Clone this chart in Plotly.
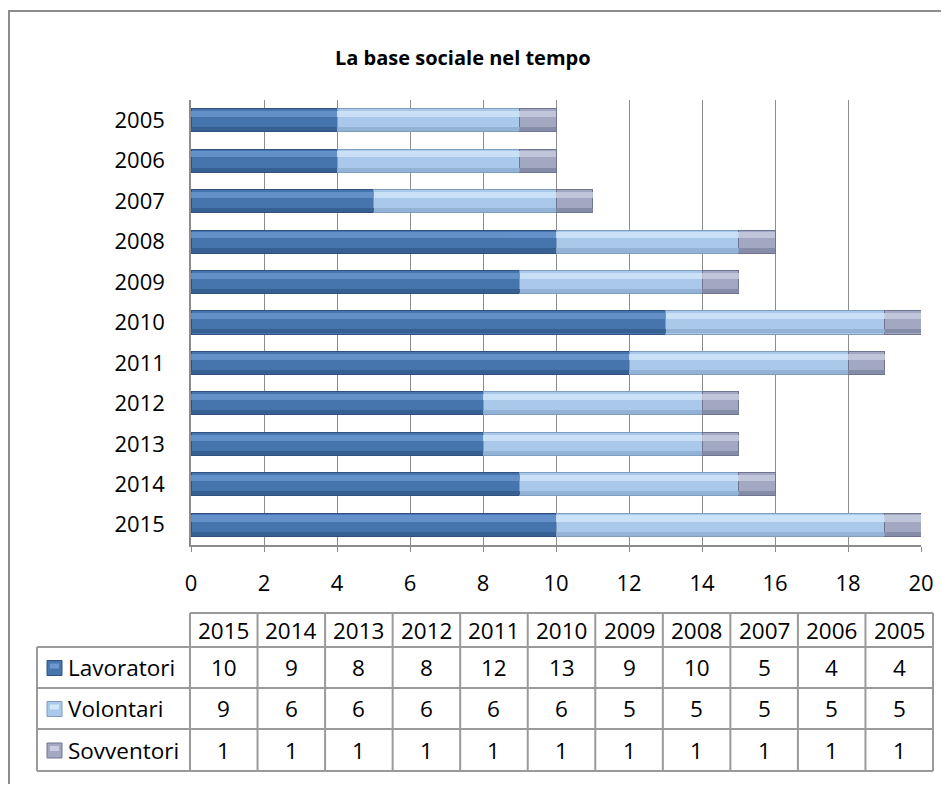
import plotly.graph_objects as go

years = ["2015", "2014", "2013", "2012", "2011", "2010", "2009", "2008", "2007", "2006", "2005"]
series_names = ["Lavoratori", "Volontari", "Sovventori"]
lavoratori = [10, 9, 8, 8, 12, 13, 9, 10, 5, 4, 4]
volontari = [9, 6, 6, 6, 6, 6, 5, 5, 5, 5, 5]
sovventori = [1, 1, 1, 1, 1, 1, 1, 1, 1, 1, 1]
x_ticks = [0, 2, 4, 6, 8, 10, 12, 14, 16, 18, 20]
title_text = "La base sociale nel tempo"

series_values = [lavoratori, volontari, sovventori]
main_colors = ["#4674ad", "#a9c8ea", "#a2a8c2"]
light_colors = ["#6c98cf", "#d2e7fa", "#c8cde0"]
dark_colors = ["#345c8c", "#8eaed2", "#7f86a2"]
edge_colors = ["#2f5280", "#7f9dbf", "#6f7590"]

# figure fills the page width (minus the 8px body margin); layout done in fractions
OFF = 8
W_REF = 949 - 2 * OFF
H = 793 - 2 * OFF - 1
FONT = "Open Sans"


def px(x):
    return (x - OFF) / W_REF


def py(y):
    return 1 - (y - OFF) / H


fig = go.Figure()

for name, vals, c, ec in zip(series_names, series_values, main_colors, edge_colors):
    fig.add_trace(go.Bar(
        y=years, x=vals, name=name, orientation="h",
        marker=dict(color=c, line=dict(color=ec, width=1)),
        width=0.57, xaxis="x", yaxis="y", hoverinfo="skip", showlegend=False,
    ))

# lighter upper band (bevel imitation)
for name, vals, c in zip(series_names, series_values, light_colors):
    fig.add_trace(go.Bar(
        y=years, x=vals, name=name + " hl", orientation="h",
        marker=dict(color=c, line=dict(width=0)), opacity=0.8,
        width=0.15, offset=0.08, xaxis="x", yaxis="y2", hoverinfo="skip", showlegend=False,
    ))

# darker lower band
for name, vals, c in zip(series_names, series_values, dark_colors):
    fig.add_trace(go.Bar(
        y=years, x=vals, name=name + " sh", orientation="h",
        marker=dict(color=c, line=dict(width=0)), opacity=0.8,
        width=0.1, offset=-0.27, xaxis="x", yaxis="y3", hoverinfo="skip", showlegend=False,
    ))

x_dom = [px(191), px(921)]
y_dom = [py(545), py(100)]

fig.update_layout(
    autosize=True, height=H,
    margin=dict(l=0, r=0, t=0, b=0, autoexpand=False),
    paper_bgcolor="white", plot_bgcolor="white",
    barmode="stack",
    font=dict(family=FONT, color="#000000"),
    xaxis=dict(domain=x_dom, range=[0, 20], tickvals=x_ticks, ticktext=[str(v) for v in x_ticks],
               showgrid=True, gridcolor="#8c8c8c", gridwidth=1,
               showline=True, linecolor="#8c8c8c", linewidth=1.5,
               ticks="outside", ticklen=5, tickcolor="#8c8c8c",
               ticklabelstandoff=13, tickfont=dict(size=22, family=FONT), zeroline=False,
               fixedrange=True),
    yaxis=dict(domain=y_dom, type="category", categoryorder="array", categoryarray=years,
               showline=True, linecolor="#8c8c8c", linewidth=1.5, showgrid=False,
               ticks="", ticklabelstandoff=20, tickfont=dict(size=22, family=FONT)),
    yaxis2=dict(domain=y_dom, type="category", categoryorder="array", categoryarray=years,
                overlaying="y", matches="y", showticklabels=False, showline=False, showgrid=False),
    yaxis3=dict(domain=y_dom, type="category", categoryorder="array", categoryarray=years,
                overlaying="y", matches="y", showticklabels=False, showline=False, showgrid=False),
    showlegend=False,
)

shapes = []
annotations = []

shapes.append(dict(type="rect", xref="paper", yref="paper", x0=px(9), x1=px(W_REF + 60),
                   y0=py(11), y1=py(H + 40), line=dict(color="#8c8c8c", width=2), layer="below"))

annotations.append(dict(text="<b>" + title_text + "</b>", x=px(463), y=py(57), xref="paper", yref="paper",
                        showarrow=False, font=dict(size=20, family=FONT, color="#000"),
                        xanchor="center", yanchor="middle"))

tab_left, lab_right, tab_right = 37, 190, 933
row_edges = [613, 647, 688, 729, 771]
ncols = len(years)
col_w = (tab_right - lab_right) / ncols
line_style = dict(color="#9a9a9a", width=2)
TFS = 22.5

shapes.append(dict(type="line", xref="paper", yref="paper", x0=px(lab_right), x1=px(tab_right),
                   y0=py(row_edges[0]), y1=py(row_edges[0]), line=line_style))
for ry in row_edges[1:]:
    shapes.append(dict(type="line", xref="paper", yref="paper", x0=px(tab_left), x1=px(tab_right),
                       y0=py(ry), y1=py(ry), line=line_style))
shapes.append(dict(type="line", xref="paper", yref="paper", x0=px(tab_left), x1=px(tab_left),
                   y0=py(row_edges[1]), y1=py(row_edges[-1]), line=line_style))
for k in range(ncols + 1):
    xx = lab_right + k * col_w
    shapes.append(dict(type="line", xref="paper", yref="paper", x0=px(xx), x1=px(xx),
                       y0=py(row_edges[0]), y1=py(row_edges[-1]), line=line_style))

for k, yr in enumerate(years):
    cx = lab_right + (k + 0.5) * col_w
    annotations.append(dict(text=yr, x=px(cx), y=py((row_edges[0] + row_edges[1]) / 2),
                            xref="paper", yref="paper", showarrow=False,
                            font=dict(size=TFS, family=FONT, color="#000"), xanchor="center", yanchor="middle"))

for r, (name, vals) in enumerate(zip(series_names, series_values)):
    cy = (row_edges[r + 1] + row_edges[r + 2]) / 2
    shapes.append(dict(type="rect", xref="paper", yref="paper", x0=px(47), x1=px(62),
                       y0=py(cy - 7), y1=py(cy + 8), fillcolor=main_colors[r],
                       line=dict(color=edge_colors[r], width=1)))
    shapes.append(dict(type="rect", xref="paper", yref="paper", x0=px(50), x1=px(59),
                       y0=py(cy - 4), y1=py(cy + 1), fillcolor=light_colors[r],
                       line=dict(width=0)))
    annotations.append(dict(text=name, x=px(66), y=py(cy), xref="paper", yref="paper", showarrow=False,
                            font=dict(size=TFS, family=FONT, color="#000"), xanchor="left", yanchor="middle"))
    for k, v in enumerate(vals):
        cx = lab_right + (k + 0.5) * col_w
        annotations.append(dict(text=str(v), x=px(cx), y=py(cy), xref="paper", yref="paper",
                                showarrow=False, font=dict(size=TFS, family=FONT, color="#000"),
                                xanchor="center", yanchor="middle"))

fig.update_layout(shapes=shapes, annotations=annotations)
fig.write_html("out.html", default_width="100%", default_height=f"{H}px")
